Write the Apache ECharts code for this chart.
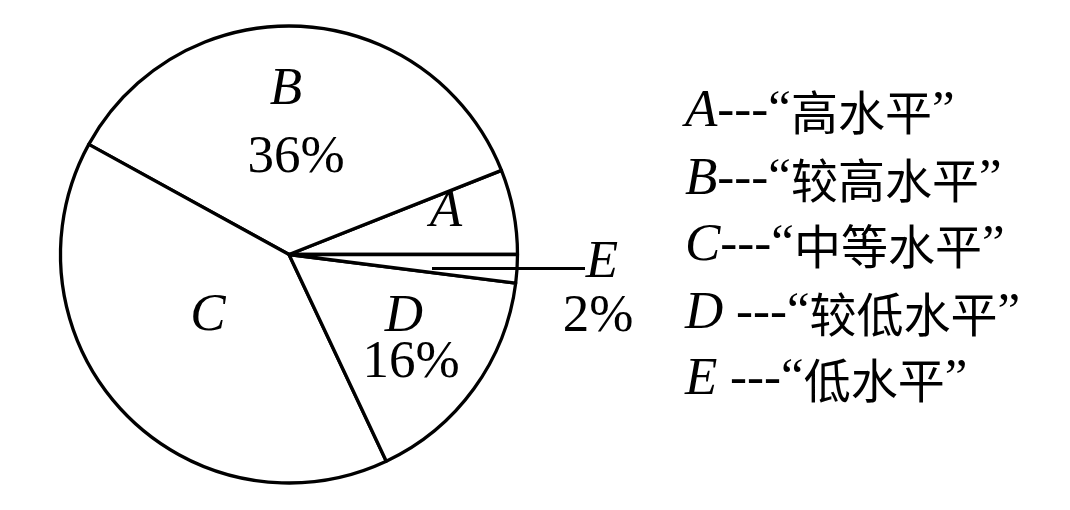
<!DOCTYPE html>
<html>
<head>
<meta charset="utf-8">
<script src="https://cdn.jsdelivr.net/npm/echarts@6/dist/echarts.min.js"></script>
<style>
html,body{margin:0;padding:0;background:#fff;}
#main{width:1070px;height:510px;}
</style>
</head>
<body>
<div id="main"></div>
<script>
// Data
const categories = ['A', 'B', 'C', 'D', 'E'];
const values = [6, 36, 40, 16, 2];
const levelNames = ['高水平', '较高水平', '中等水平', '较低水平', '低水平'];
const showPercent = [false, true, false, true, true];
const legendSep = ['---', '---', '---', ' ---', ' ---'];

const LATIN = 'Liberation Serif, Times New Roman, serif';
const CJK = 'Noto Sans CJK SC, sans-serif';
const FS = 53;

const chart = echarts.init(document.getElementById('main'), null, {renderer: 'canvas'});

// Label anchor positions (cap centers)
const letterPos = [[446, 212], [286, 90], [208, 316], [404, 317], [602, 263]];
const pctPos = [null, [296, 158], null, [411, 363], [598, 317]];
const legendX = 685;
const legendY = [112, 180, 246, 314, 380];

const graphics = [];
categories.forEach((c, i) => {
  graphics.push({
    type: 'text', x: letterPos[i][0], y: letterPos[i][1], silent: true, z: 100,
    style: {text: c, font: 'italic ' + FS + 'px ' + LATIN, fill: '#000', align: 'center', verticalAlign: 'middle'}
  });
  if (showPercent[i]) {
    graphics.push({
      type: 'text', x: pctPos[i][0], y: pctPos[i][1], silent: true, z: 100,
      style: {text: values[i] + '%', font: FS + 'px ' + LATIN, fill: '#000', align: 'center', verticalAlign: 'middle'}
    });
  }
  graphics.push({
    type: 'text', x: legendX, y: legendY[i], silent: true, z: 100,
    style: {
      text: '{l|' + c + '}{d|' + legendSep[i] + '“}{c|' + levelNames[i] + '}{d|”}',
      align: 'left', verticalAlign: 'middle',
      rich: {
        l: {fontFamily: LATIN, fontSize: FS, fontStyle: 'italic', fill: '#000', color: '#000'},
        d: {fontFamily: LATIN, fontSize: 51, fill: '#000', color: '#000'},
        c: {fontFamily: CJK, fontSize: 47, fill: '#000', color: '#000'}
      }
    }
  });
});
// Leader line for E
graphics.push({
  type: 'line', silent: true, z: 100,
  shape: {x1: 432, y1: 268.5, x2: 585, y2: 268.5},
  style: {stroke: '#000', lineWidth: 3}
});

chart.setOption({
  backgroundColor: '#fff',
  animation: false,
  series: [{
    type: 'pie',
    z: 2,
    center: [289, 254.5],
    radius: [0, 228.5],
    startAngle: 0,
    clockwise: false,
    avoidLabelOverlap: false,
    label: {show: false},
    labelLine: {show: false},
    emphasis: {disabled: true},
    itemStyle: {color: '#fff', borderColor: '#000', borderWidth: 3.3},
    data: categories.map((c, i) => ({name: c, value: values[i]}))
  }],
  graphic: {elements: graphics}
});
</script>
</body>
</html>
